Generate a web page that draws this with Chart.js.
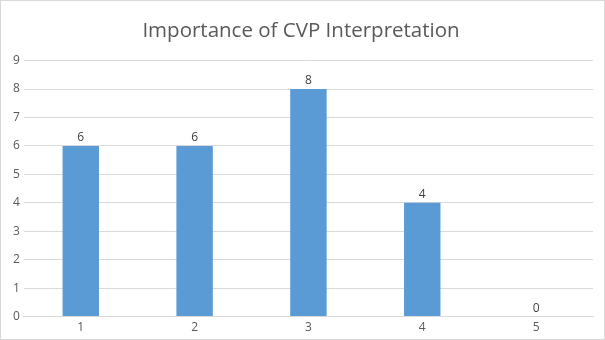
<!DOCTYPE html>
<html><head><meta charset="utf-8">
<script src="https://cdn.jsdelivr.net/npm/chart.js@4/dist/chart.umd.min.js"></script>
<style>
html,body{margin:0;padding:0;background:#fff;}
#wrap{width:605px;height:340px;box-sizing:border-box;border:1px solid #d9d9d9;position:relative;}
</style></head><body>
<div id="wrap"><canvas id="c" width="603" height="338"></canvas></div>
<script>
const categories = ['1','2','3','4','5'];
const values = [6,6,8,4,0];
const yTicks = [0,1,2,3,4,5,6,7,8,9];
const titleText = 'Importance of CVP Interpretation';

const labelPlugin = {
  id:'labels',
  afterDatasetsDraw(chart){
    const ctx = chart.ctx;
    const meta = chart.getDatasetMeta(0);
    ctx.save();
    ctx.font = '12px "Open Sans", "Liberation Sans", sans-serif';
    ctx.fillStyle = '#404040';
    ctx.textAlign = 'center';
    ctx.textBaseline = 'bottom';
    meta.data.forEach((bar,i)=>{
      ctx.fillText(String(values[i]), bar.x, bar.y - 2);
    });
    ctx.restore();
  }
};

new Chart(document.getElementById('c'), {
  type:'bar',
  data:{labels:categories,datasets:[{data:values,backgroundColor:'#5B9BD5',categoryPercentage:1,barPercentage:0.32}]},
  options:{
    responsive:false,animation:false,
    layout:{padding:{left:8,right:11,top:10,bottom:0}},
    plugins:{
      legend:{display:false},tooltip:{enabled:false},
      title:{display:true,text:titleText,color:'#595959',font:{size:20.5,family:'"Open Sans", "Liberation Sans", sans-serif',weight:'normal'},padding:{top:8,bottom:17}}
    },
    scales:{
      x:{grid:{display:false,drawTicks:false},border:{color:'#d9d9d9'},ticks:{color:'#595959',font:{size:12,family:'"Open Sans", "Liberation Sans", sans-serif'},padding:4}},
      y:{min:0,max:9,afterBuildTicks(s){s.ticks=yTicks.map(v=>({value:v}));},grid:{color:'#d9d9d9',drawTicks:false},border:{display:false},ticks:{color:'#595959',font:{size:12,family:'"Open Sans", "Liberation Sans", sans-serif'},padding:4}}
    }
  },
  plugins:[labelPlugin]
});
</script></body></html>
